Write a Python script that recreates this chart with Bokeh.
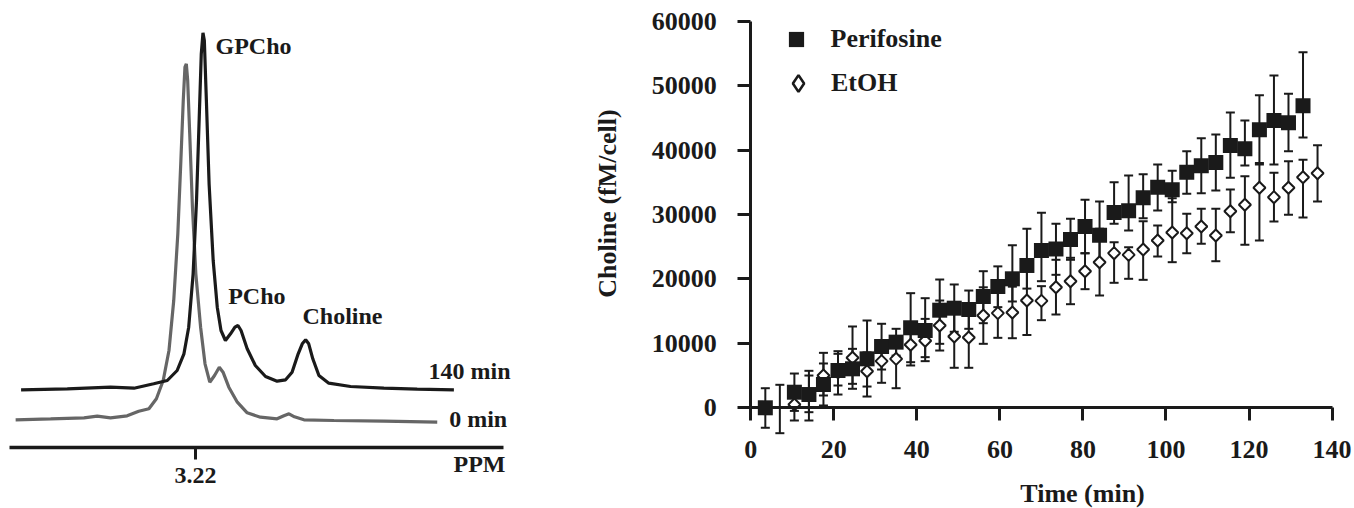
import math
from bokeh.plotting import figure
from bokeh.layouts import row
from bokeh.models import (Range1d, Whisker, TeeHead, ColumnDataSource, Legend, LegendItem,
                          FixedTicker, Label)
from bokeh.embed import file_html
from bokeh.resources import INLINE

FONT = "Liberation Serif"
INK = "#1a1a1a"
GRAY = "#666666"

# ---------------- Left panel: 1H NMR spectra (ppm, arbitrary intensity) ----------------
ppm_140min = [3.2713, 3.2577, 3.2450, 3.2381, 3.2323, 3.2283, 3.2254, 3.2234, 3.2220, 3.2207,
              3.2197, 3.2189, 3.2183, 3.2178, 3.2174, 3.2168, 3.2160, 3.2148, 3.2136, 3.2125,
              3.2112, 3.2097, 3.2084, 3.2075, 3.2066, 3.2048, 3.2024, 3.1994, 3.1960, 3.1935,
              3.1916, 3.1898, 3.1886, 3.1876, 3.1867, 3.1855, 3.1837, 3.1808, 3.1744, 3.1646,
              3.1548, 3.1440]
int_140min = [57.7, 58.7, 60.3, 59.3, 63.7, 67.0, 77.0, 93.7, 120.3, 173.7,
              247.0, 330.3, 393.7, 414.7, 407.0, 347.0, 263.7, 187.0, 140.3, 117.0,
              107.0, 113.7, 120.3, 122.0, 117.0, 98.7, 82.0, 71.0, 66.3, 67.7,
              75.3, 93.7, 103.7, 107.7, 103.7, 88.7, 72.0, 64.3, 61.0, 59.3,
              58.3, 57.7]
ppm_0min = [3.2729, 3.2626, 3.2528, 3.2489, 3.2450, 3.2401, 3.2367, 3.2337, 3.2315, 3.2295,
            3.2278, 3.2264, 3.2252, 3.2243, 3.2236, 3.2231, 3.2227, 3.2223, 3.2217, 3.2209,
            3.2199, 3.2185, 3.2172, 3.2158, 3.2144, 3.2130, 3.2119, 3.2102, 3.2077, 3.2048,
            3.2009, 3.1960, 3.1940, 3.1925, 3.1909, 3.1881, 3.1793, 3.1646, 3.1489]
int_0min = [27.7, 28.7, 29.7, 31.3, 29.7, 31.7, 36.3, 38.7, 48.7, 67.0,
            97.0, 147.0, 213.7, 287.0, 347.0, 380.3, 383.7, 367.0, 313.7, 240.3,
            173.7, 120.3, 83.7, 65.3, 72.0, 80.3, 75.3, 60.3, 45.3, 34.7,
            30.3, 28.7, 31.7, 33.7, 30.7, 27.7, 27.0, 26.3, 25.3]
ppm_ticks = [3.22]

# ---------------- Right panel: choline vs time ----------------
time_perifosine = [3.5, 10.5, 14, 17.5, 21, 24.5, 28, 31.5, 35, 38.5, 42, 45.5, 49, 52.5, 56,
                   59.5, 63, 66.5, 70, 73.5, 77, 80.5, 84, 87.5, 91, 94.5, 98, 101.5, 105,
                   108.5, 112, 115.5, 119, 122.5, 126, 129.5, 133]
choline_perifosine = [0, 2420, 2060, 3620, 5790, 6050, 7600, 9510, 10190, 12420, 12000, 15150,
                      15460, 15260, 17270, 18830, 20020, 22090, 24410, 24650, 26120, 28140,
                      26790, 30320, 30570, 32590, 34240, 33840, 36570, 37560, 38070, 40710,
                      40200, 43150, 44590, 44230, 46870]
perifosine_upper = [3040, 5320, 5740, 6880, 8790, 9150, 13550, 13040, 12260, 17790, 17010, 19910,
                    19140, 18200, 21200, 21950, 25210, 27780, 30270, 28560, 29330, 32280,
                    32020, 35000, 36060, 36260, 37760, 36780, 39830, 41840, 42420, 45830,
                    44590, 48520, 51580, 48740, 55190]
perifosine_lower = [-3100, -480, -680, 360, 2060, 2950, 3300, 5940, 8100, 7080, 7860, 9930,
                    11800, 12260, 13130, 15620, 16500, 18500, 19650, 20640, 22970, 24000,
                    22600, 28560, 27520, 29430, 30620, 31910, 33210, 33310, 33730, 35700,
                    37610, 37760, 37760, 39830, 41950]

NaN = float("nan")
time_etoh = [7, 10.5, 14, 17.5, 21, 24.5, 28, 31.5, 35, 38.5, 42, 45.5, 49, 52.5, 56, 59.5,
             63, 66.5, 70, 73.5, 77, 80.5, 84, 87.5, 91, 94.5, 98, 101.5, 105, 108.5, 112,
             115.5, 119, 122.5, 126, 129.5, 133, 136.5]
choline_etoh = [NaN, 510, 2000, 5010, 5500, 7760, 5680, 7240, 7600, 9780, 10400, 12770, 11070,
                10910, 14330, 14690, 14800, 16650, 16600, 18720, 19650, 21200, 22600, 24000,
                23740, 24570, 25970, 27210, 27100, 28140, 26740, 30510, 31510, 34150, 32690,
                34150, 35790, 36410]
etoh_upper = [3570, 2990, 5010, 8530, 8380, 12620, 8600, 10000, 10500, 12900, 13800, 16650,
              15900, 15400, 18700, 18500, 18800, 21500, 18880, 22970, 23280, 24000, 27800,
              25680, 24930, 28970, 28300, 32530, 30110, 30890, 30890, 33880, 35950, 38000,
              36470, 38280, 38490, 40760]
etoh_lower = [-3940, -1970, -1970, 1910, 3460, 3720, 1750, 3880, 3040, 6570, 7240, 8890, 6210,
              6210, 9930, 10860, 10800, 11300, 13600, 14480, 16080, 18410, 17430, 19400, 20020,
              19860, 23480, 22600, 24000, 25450, 22750, 27250, 25300, 25970, 28920, 29950,
              29540, 32020]

x_ticks = [0, 20, 40, 60, 80, 100, 120, 140]
y_ticks = [0, 10000, 20000, 30000, 40000, 50000, 60000]
series_names = ["Perifosine", "EtOH"]
x_title = "Time (min)"
y_title = "Choline (fM/cell)"

# ======================= Left figure =======================
p1 = figure(width=560, height=508, x_range=Range1d(3.277353, 3.112647), y_range=Range1d(-61, 447),
            output_backend="svg", toolbar_location=None,
            min_border_left=0, min_border_right=0, min_border_top=0, min_border_bottom=0)
p1.yaxis.visible = False
p1.grid.visible = False
p1.outline_line_color = None
p1.background_fill_color = None
p1.border_fill_color = None
ax = p1.xaxis[0]
ax.fixed_location = 0
ax.bounds = (3.27471, 3.129412)
ax.ticker = FixedTicker(ticks=ppm_ticks)
ax.axis_line_width = 3.5
ax.axis_line_color = INK
ax.major_tick_line_width = 3
ax.major_tick_line_color = INK
ax.major_tick_out = 12
ax.major_tick_in = 0
ax.minor_tick_out = 0
ax.minor_tick_in = 0
ax.major_label_standoff = 8
ax.major_label_text_font = FONT
ax.major_label_text_font_style = "bold"
ax.major_label_text_font_size = "24px"
ax.major_label_text_color = INK

p1.line(ppm_0min, int_0min, line_color=GRAY, line_width=3.2)
p1.line(ppm_140min, int_140min, line_color=INK, line_width=3.2)

def lab(x, y, text, align="left"):
    p1.add_layout(Label(x=x, y=y, text=text, text_align=align, text_baseline="alphabetic",
                        text_font=FONT, text_font_style="bold", text_font_size="24px",
                        text_color=INK))

lab(3.21412, 402, "GPCho")
lab(3.21038, 152, "PCho")
lab(3.18853, 132, "Choline")
lab(3.12735, 77, "140 min", "right")
lab(3.12832, 29, "0 min", "right")
lab(3.12882, -16, "PPM", "right")

# ======================= Right figure =======================
p2 = figure(width=794, height=508, x_range=Range1d(-45.83, 145.40), y_range=Range1d(-15628, 63213),
            output_backend="svg", toolbar_location=None,
            min_border_left=0, min_border_right=0, min_border_top=0, min_border_bottom=0)
p2.grid.visible = False
p2.outline_line_color = None
p2.background_fill_color = None
p2.border_fill_color = None

for a in (p2.xaxis[0], p2.yaxis[0]):
    a.axis_line_width = 3
    a.axis_line_color = INK
    a.major_tick_line_width = 3
    a.major_tick_line_color = INK
    a.major_tick_out = 13
    a.major_tick_in = 0
    a.minor_tick_out = 0
    a.minor_tick_in = 0
    a.major_label_text_font = FONT
    a.major_label_text_font_style = "bold"
    a.major_label_text_font_size = "26px"
    a.major_label_text_color = INK

xa = p2.xaxis[0]
xa.ticker = FixedTicker(ticks=x_ticks)
xa.bounds = (0, 140)
xa.fixed_location = 0
xa.major_label_standoff = 20

ya = p2.yaxis[0]
ya.ticker = FixedTicker(ticks=y_ticks)
ya.bounds = (0, 60000)
ya.fixed_location = 0
ya.major_label_standoff = 21

src_p = ColumnDataSource(dict(t=time_perifosine, v=choline_perifosine,
                              hi=perifosine_upper, lo=perifosine_lower))
src_e = ColumnDataSource(dict(t=time_etoh, v=choline_etoh, hi=etoh_upper, lo=etoh_lower))

for src in (src_p, src_e):
    w = Whisker(base="t", upper="hi", lower="lo", source=src, dimension="height",
                line_color=INK, line_width=2, level="underlay",
                upper_head=TeeHead(size=9, line_color=INK, line_width=2),
                lower_head=TeeHead(size=9, line_color=INK, line_width=2))
    p2.add_layout(w)

r_e = p2.scatter("t", "v", source=src_e, marker="square", angle=math.pi / 4, size=8.5,
                 fill_color="white", line_color=INK, line_width=2)
r_p = p2.scatter("t", "v", source=src_p, marker="square", size=15,
                 fill_color=INK, line_color=None)
# legend key for the open diamonds (legend keys are drawn unrotated); no visible point
r_e_key = p2.scatter(x=[NaN], y=[NaN], marker="diamond", fill_color="white", line_color=INK,
                     line_width=2.6)

def legend(renderer, name, loc, gw, gh, standoff):
    lg = Legend(items=[LegendItem(label=name, renderers=[renderer])], location=loc,
                glyph_width=gw, glyph_height=gh, label_standoff=standoff, padding=0, margin=0,
                spacing=0, border_line_color=None, background_fill_alpha=0,
                label_text_font=FONT, label_text_font_style="bold",
                label_text_font_size="26px", label_text_color=INK)
    p2.add_layout(lg)

legend(r_p, series_names[0], (216.5, 450), 38, 38, 16)
legend(r_e_key, series_names[1], (217, 403.7), 42, 42, 12)

p2.add_layout(Label(x=79.9, y=-13300, text=x_title, text_align="center",
                    text_baseline="alphabetic", text_font=FONT, text_font_style="bold",
                    text_font_size="26px", text_color=INK))
p2.add_layout(Label(x=-34.5, y=31700, text=y_title, text_align="center", angle=math.pi / 2,
                    text_baseline="middle", text_font=FONT, text_font_style="bold",
                    text_font_size="26px", text_color=INK))

layout = row(p1, p2)
open("out.html", "w").write(file_html(layout, INLINE))
